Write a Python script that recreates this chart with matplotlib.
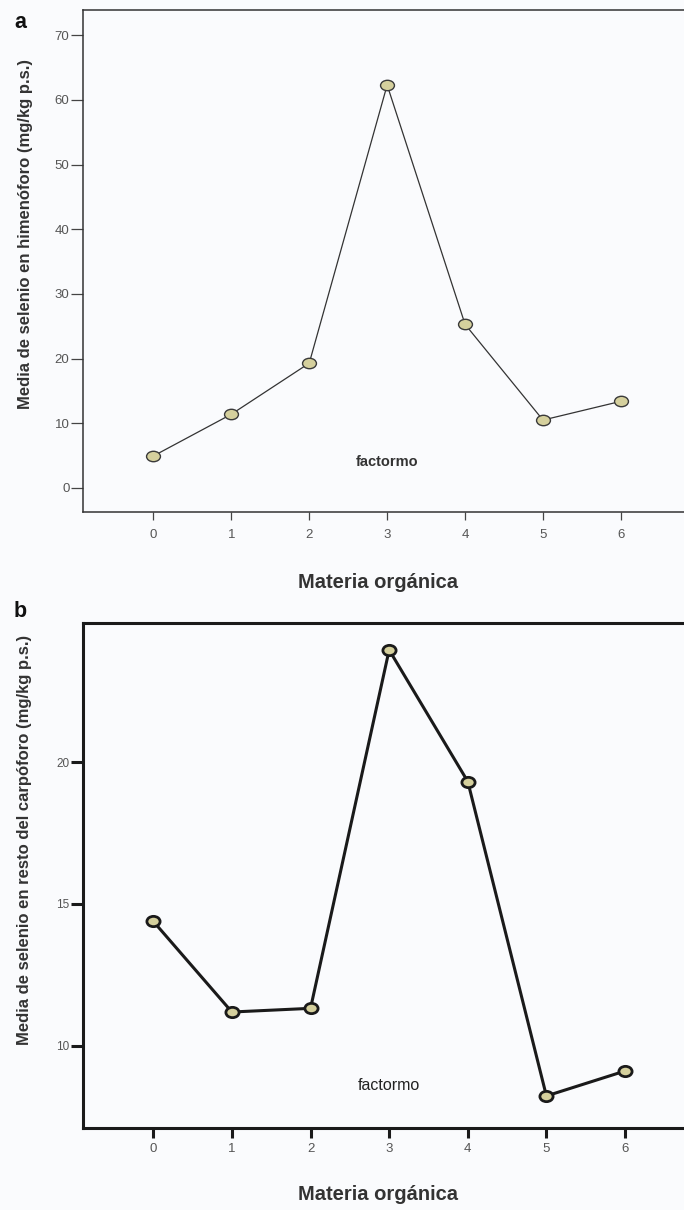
import numpy as np
import matplotlib
matplotlib.use("Agg")
import matplotlib.pyplot as plt
from matplotlib.path import Path

# ---- data ----
categories = [0, 1, 2, 3, 4, 5, 6]
himenoforo = [4.95, 11.4, 19.3, 62.3, 25.3, 10.5, 13.4]
resto = [14.39, 11.19, 11.32, 23.96, 19.32, 8.23, 9.11]
yticks_a = [0, 10, 20, 30, 40, 50, 60, 70]
yticks_b = [10, 15, 20]
xlabel = "Materia orgánica"
ylabel_a = "Media de selenio en himenóforo (mg/kg p.s.)"
ylabel_b = "Media de selenio en resto del carpóforo (mg/kg p.s.)"
note = "factormo"

BG = "#fafbfd"
FILL = "#d5d09d"
plt.rcParams['font.family'] = ['Liberation Sans', 'DejaVu Sans']
NARROW = ['Liberation Sans Narrow', 'Liberation Sans', 'DejaVu Sans']

W, H = 684, 1210
fig = plt.figure(figsize=(W / 100, H / 100), dpi=100, facecolor=BG)

def fx(px):
    return px / W

def fy(py):
    return 1 - py / H

circ = Path.unit_circle()
ell_a = Path(circ.vertices * np.array([1.0, 0.75]), circ.codes)
ell_b = Path(circ.vertices * np.array([1.0, 0.78]), circ.codes)

# ---- panel a ----
left = 83.3
ax1 = fig.add_axes([fx(left), fy(512.3), 1 - fx(left), fy(10) - fy(512.3)])
ax1.set_facecolor(BG)
ax1.plot(categories, himenoforo, color="#333333", lw=0.9, marker=ell_a,
         ms=10, mfc=FILL, mec="#3a3a3a", mew=1.0, zorder=3)
ax1.set_xlim(-0.9, 6.81)
ax1.set_ylim(-3.76, 73.9)
ax1.set_xticks(categories)
ax1.set_yticks(yticks_a)
ax1.spines["right"].set_visible(False)
for s in ["left", "top", "bottom"]:
    ax1.spines[s].set_color("#333333")
    ax1.spines[s].set_linewidth(1.1)
ax1.tick_params(axis="y", direction="out", length=9, width=0.9, color="#444444",
                pad=1, labelsize=9.5, labelcolor="#555555")
ax1.tick_params(axis="x", direction="out", length=6, width=0.9, color="#444444",
                pad=6, labelsize=9.5, labelcolor="#555555")
for lab in ax1.get_xticklabels() + ax1.get_yticklabels():
    lab.set_family(NARROW)
ax1.text(3, 4.0, note, ha="center", va="center", fontsize=10.5,
         fontweight="bold", color="#333333", family=NARROW)

fig.text(fx(25.5), fy(234), ylabel_a, rotation=90, ha="center", va="center",
         fontsize=12, fontweight="bold", color="#333333")
fig.text(fx(378), fy(582), xlabel, ha="center", va="center",
         fontsize=14.5, fontweight="bold", color="#333333")
fig.text(fx(14), fy(28), "a", ha="left", va="baseline", fontsize=15.5,
         fontweight="bold", color="#111111")

# ---- panel b ----
ax2 = fig.add_axes([fx(left), fy(1127.7), 1 - fx(left), fy(623.3) - fy(1127.7)])
ax2.set_facecolor(BG)
ax2.plot(categories, resto, color="#1a1a1a", lw=2.2, marker=ell_b,
         ms=9.5, mfc=FILL, mec="#1a1a1a", mew=2.0, zorder=3)
ax2.set_xlim(-0.89, 6.75)
ax2.set_ylim(7.11, 24.9)
ax2.set_xticks(categories)
ax2.set_yticks(yticks_b)
ax2.spines["right"].set_visible(False)
for s in ["left", "top", "bottom"]:
    ax2.spines[s].set_color("#1a1a1a")
    ax2.spines[s].set_linewidth(2.2)
ax2.tick_params(axis="y", direction="out", length=9, width=2.2, color="#1a1a1a",
                pad=1, labelsize=8.5, labelcolor="#555555")
ax2.tick_params(axis="x", direction="out", length=7, width=2.2, color="#1a1a1a",
                pad=4, labelsize=9.5, labelcolor="#555555")
for lab in ax2.get_xticklabels() + ax2.get_yticklabels():
    lab.set_family(NARROW)
ax2.text(3, 8.6, note, ha="center", va="center", fontsize=11.5,
         color="#222222", family=NARROW)

fig.text(fx(25), fy(840), ylabel_b, rotation=90, ha="center", va="center",
         fontsize=12, fontweight="bold", color="#333333")
fig.text(fx(378), fy(1195), xlabel, ha="center", va="center",
         fontsize=14.5, fontweight="bold", color="#333333")
fig.text(fx(14), fy(617), "b", ha="left", va="baseline", fontsize=15.5,
         fontweight="bold", color="#111111")

fig.savefig("out.png", dpi=100, facecolor=BG)
